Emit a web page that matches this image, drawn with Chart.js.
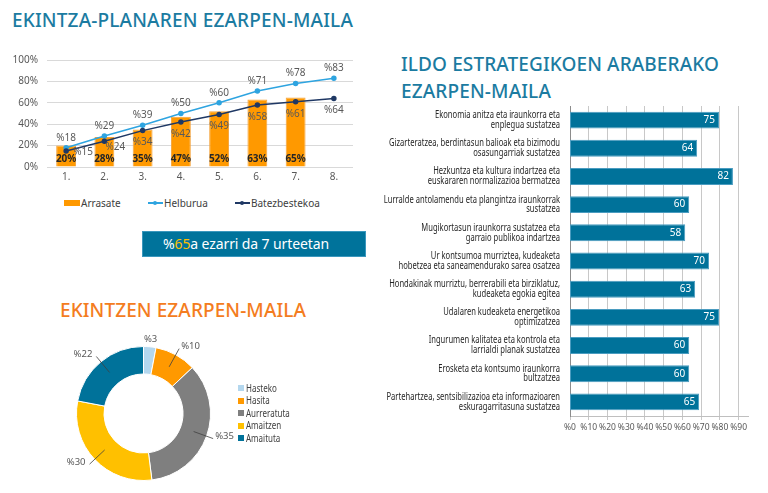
<!DOCTYPE html>
<html>
<head>
<meta charset="utf-8">
<script src="https://cdn.jsdelivr.net/npm/chart.js@4.4.1/dist/chart.umd.min.js"></script>
<style>
  body { margin: 0; width: 768px; height: 493px; background: #fff; position: relative; overflow: hidden; font-family: "Noto Sans", sans-serif; }
  .title { position: absolute; white-space: nowrap; font-size: 19px; line-height: 20px; font-weight: 500; color: #1b7ba1; }
  .orange { color: #f47c20; }
  canvas { position: absolute; }
  .banner { position: absolute; left: 142px; top: 231px; width: 222px; height: 24px; background: #00739b; border: 1px solid #3a97bd; color: #fff; font-size: 14px; line-height: 24px; }
  .banner span.txt { position: absolute; left: 20px; white-space: nowrap; }
  .banner b { color: #ffc000; font-weight: normal; }
  .leg { position: absolute; font-size: 10px; color: #404040; line-height: 12px; white-space: nowrap; }
  .leg2 { position: absolute; font-size: 10px; color: #404040; line-height: 12px; white-space: nowrap; transform: scaleX(0.8); transform-origin: left center; }
  .sw { position: absolute; }
</style>
</head>
<body>
<div class="title" id="t1" style="left:12px;top:10px">EKINTZA-PLANAREN EZARPEN-MAILA</div>
<div class="title" id="t2" style="left:401px;top:54px">ILDO ESTRATEGIKOEN ARABERAKO</div>
<div class="title" id="t3" style="left:401px;top:81px">EZARPEN-MAILA</div>
<div class="title orange" id="t4" style="left:60px;top:300px">EKINTZEN EZARPEN-MAILA</div>

<canvas id="c1" width="365" height="142" style="left:0;top:45px"></canvas>
<div id="leg1"></div>
<div class="banner"><span class="txt" id="bannerTxt">%<b>65</b>a ezarri da 7 urteetan</span></div>

<canvas id="c2" width="207" height="177" style="left:40px;top:325px"></canvas>
<div id="leg2"></div>

<canvas id="c3" width="393" height="337" style="left:375px;top:100px"></canvas>

<script>
// --- data ---
const years = ['1.', '2.', '3.', '4.', '5.', '6.', '7.', '8.'];
const arrasate = [20, 28, 35, 47, 52, 63, 65, null];
const helburua = [18, 29, 39, 50, 60, 71, 78, 83];
const batezbestekoa = [15, 24, 34, 42, 49, 58, 61, 64];

const statusLabels = ['Hasteko', 'Hasita', 'Aurreratuta', 'Amaitzen', 'Amaituta'];
const statusValues = [3, 10, 35, 30, 22];
const statusColors = ['#b4d7ee', '#ff9900', '#7f7f7f', '#ffc000', '#00729a'];

const lines = [
    ['Ekonomia anitza eta iraunkorra eta', 'enplegua sustatzea'],
    ['Gizarteratzea, berdintasun balioak eta bizimodu', 'osasungarriak sustatzea'],
    ['Hezkuntza eta kultura indartzea eta', 'euskararen normalizazioa bermatzea'],
    ['Lurralde antolamendu eta plangintza iraunkorrak', 'sustatzea'],
    ['Mugikortasun iraunkorra sustatzea eta', 'garraio publikoa indartzea'],
    ['Ur kontsumoa murriztea, kudeaketa', 'hobetzea eta saneamendurako sarea osatzea'],
    ['Hondakinak murriztu, berrerabili eta birziklatuz,', 'kudeaketa egokia egitea'],
    ['Udalaren kudeaketa energetikoa', 'optimizatzea'],
    ['Ingurumen kalitatea eta kontrola eta', 'larrialdi planak sustatzea'],
    ['Erosketa eta kontsumo iraunkorra', 'bultzatzea'],
    ['Partehartzea, sentsibilizazioa eta informazioaren', 'eskuragarritasuna sustatzea']
];
const lineValues = [75, 64, 82, 60, 58, 70, 63, 75, 60, 60, 65];
const pctTicks = [0, 10, 20, 30, 40, 50, 60, 70, 80, 90];

const FONT = '"Noto Sans", sans-serif';

// stretch titles to the width they have in the picture
const fitText = (el, target) => {
    el.style.letterSpacing = '0px';
    const w = el.getBoundingClientRect().width;
    el.style.letterSpacing = ((target - w) / el.textContent.length) + 'px';
};
fitText(document.getElementById('t1'), 341);
fitText(document.getElementById('t2'), 318);
fitText(document.getElementById('t3'), 150);
fitText(document.getElementById('t4'), 246);
fitText(document.getElementById('bannerTxt'), 166);

// legend under the combo chart
const leg1 = document.getElementById('leg1');
leg1.innerHTML = `
  <div class="sw" style="left:64px;top:200px;width:16px;height:6px;background:#ff9900"></div>
  <div class="leg" style="left:81px;top:197px">Arrasate</div>
  <div class="sw" style="left:148px;top:202px;width:15px;height:2px;background:#2ea4e0"></div>
  <div class="sw" style="left:153px;top:201px;width:4px;height:4px;border-radius:2px;background:#2ea4e0"></div>
  <div class="leg" style="left:164px;top:197px">Helburua</div>
  <div class="sw" style="left:235px;top:202px;width:15px;height:2px;background:#1f3864"></div>
  <div class="sw" style="left:240px;top:201px;width:4px;height:4px;border-radius:2px;background:#1f3864"></div>
  <div class="leg" style="left:251px;top:197px">Batezbestekoa</div>`;

// legend beside the donut
const leg2 = document.getElementById('leg2');
statusLabels.forEach((l, i) => {
    const y = 388 + i * 12.5;
    leg2.innerHTML += `
      <div class="sw" style="left:238px;top:${y - 3}px;width:6px;height:6px;background:${statusColors[i]}"></div>
      <div class="leg2" style="left:246px;top:${y - 6.5}px">${l}</div>`;
});

const comboLabels = {
    id: 'comboLabels',
    afterDatasetsDraw(chart) {
        const c = chart.ctx;
        c.save();
        c.textBaseline = 'middle';
        c.textAlign = 'center';
        // values inside the bars
        c.font = 'bold 10px ' + FONT;
        c.fillStyle = '#262626';
        chart.getDatasetMeta(2).data.forEach((el, i) => {
            if (arrasate[i] == null) return;
            c.fillText(arrasate[i] + '%', el.x, chart.scales.y.bottom - 8);
        });
        c.font = '10px ' + FONT;
        c.fillStyle = '#595959';
        chart.getDatasetMeta(0).data.forEach((p, i) => {
            c.fillText('%' + helburua[i], p.x, p.y - 10);
        });
        chart.getDatasetMeta(1).data.forEach((p, i) => {
            let dx = 0, dy = 12;
            if (i === 0) { dx = 17; dy = 1; }
            if (i === 1) { dx = 11; dy = 6; }
            c.fillText('%' + batezbestekoa[i], p.x + dx, p.y + dy);
        });
        c.restore();
    }
};

new Chart(document.getElementById('c1'), {
    data: {
        labels: years,
        datasets: [
            { type: 'line', label: 'Helburua', data: helburua, borderColor: '#2ea4e0', backgroundColor: '#2ea4e0', borderWidth: 1.5, pointRadius: 2, order: 1 },
            { type: 'line', label: 'Batezbestekoa', data: batezbestekoa, borderColor: '#1f3864', backgroundColor: '#1f3864', borderWidth: 1.5, pointRadius: 2, order: 0 },
            { type: 'bar', label: 'Arrasate', data: arrasate, backgroundColor: '#ff9900', borderColor: '#f5a33a', borderWidth: 1, barPercentage: 0.52, categoryPercentage: 1, order: 2 }
        ]
    },
    options: {
        responsive: false,
        animation: false,
        layout: { padding: { top: 10.5, right: 12, left: 0, bottom: 0 } },
        plugins: { legend: { display: false }, tooltip: { enabled: false } },
        scales: {
            x: {
                offset: true,
                grid: { display: false, drawTicks: false },
                border: { display: false },
                ticks: { color: '#595959', font: { size: 10, family: FONT }, padding: 4 },
                afterFit: s => { s.height = 20; }
            },
            y: {
                min: 0, max: 100,
                ticks: { stepSize: 20, callback: v => v + '%', color: '#595959', font: { size: 10, family: FONT }, padding: 9 },
                grid: { color: '#d9d9d9', drawTicks: false },
                border: { display: false },
                afterFit: s => { s.width = 47; }
            }
        }
    },
    plugins: [comboLabels]
});

const donutLabels = {
    id: 'donutLabels',
    afterDatasetsDraw(chart) {
        const c = chart.ctx;
        c.save();
        c.font = '9.5px ' + FONT;
        c.fillStyle = '#595959';
        c.strokeStyle = '#404040';
        c.lineWidth = 0.8;
        c.textBaseline = 'middle';
        chart.getDatasetMeta(0).data.forEach((arc, i) => {
            const mid = (arc.startAngle + arc.endAngle) / 2;
            const cos = Math.cos(mid), sin = Math.sin(mid);
            const txt = '%' + statusValues[i];
            if (statusValues[i] < 5) {
                const r = arc.outerRadius + 8;
                c.textAlign = 'center';
                c.fillText(txt, arc.x + r * cos, arc.y + r * sin);
                return;
            }
            const r0 = (arc.innerRadius + arc.outerRadius) / 2;
            const r1 = arc.outerRadius + 7;
            const ex = arc.x + r1 * cos, ey = arc.y + r1 * sin;
            c.beginPath();
            c.moveTo(arc.x + r0 * cos, arc.y + r0 * sin);
            c.lineTo(ex, ey);
            c.stroke();
            c.textAlign = cos >= 0 ? 'left' : 'right';
            c.fillText(txt, ex + (cos >= 0 ? 2 : -4), ey - 2);
        });
        c.restore();
    }
};

new Chart(document.getElementById('c2'), {
    type: 'doughnut',
    data: {
        labels: statusLabels,
        datasets: [{ data: statusValues, backgroundColor: statusColors, borderColor: '#fff', borderWidth: 1 }]
    },
    options: {
        responsive: false,
        animation: false,
        cutout: '59%',
        layout: { padding: { left: 36, right: 36, top: 21, bottom: 21 } },
        plugins: { legend: { display: false }, tooltip: { enabled: false } }
    },
    plugins: [donutLabels]
});

// category names and bar values for the right-hand chart (condensed like the original)
const barText = {
    id: 'barText',
    afterDraw(chart) {
        const c = chart.ctx;
        const ys = chart.scales.y;
        c.save();
        c.font = '10px ' + FONT;
        c.fillStyle = '#262626';
        c.textAlign = 'right';
        c.textBaseline = 'middle';
        const f = 171 / c.measureText(lines[1][0]).width;
        lines.forEach((ls, i) => {
            const y = ys.getPixelForValue(i);
            ls.forEach((t, k) => {
                c.save();
                c.translate(ys.right - 10, y + (k - 0.5) * 9.8);
                c.scale(f, 1);
                c.fillText(t, 0, 0);
                c.restore();
            });
        });
        c.font = '10px ' + FONT;
        c.fillStyle = '#fff';
        chart.getDatasetMeta(0).data.forEach((el, i) => {
            c.fillText(lineValues[i], el.x - 4, el.y);
        });
        c.restore();
    }
};

new Chart(document.getElementById('c3'), {
    type: 'bar',
    data: {
        labels: lines,
        datasets: [{ data: lineValues, xAxisID: 'x2', backgroundColor: '#00729a', borderColor: '#4a9cc0', borderWidth: 1, borderSkipped: false, barPercentage: 0.6, categoryPercentage: 1 }]
    },
    options: {
        indexAxis: 'y',
        responsive: false,
        animation: false,
        layout: { padding: { top: 6, right: 20 } },
        plugins: { legend: { display: false }, tooltip: { enabled: false } },
        scales: {
            x: {
                position: 'bottom',
                min: 0, max: 95,
                afterBuildTicks: s => { s.ticks = pctTicks.map(v => ({ value: v })); },
                ticks: { autoSkip: false, callback: v => '%' + v, color: '#595959', font: { size: 8.5, family: FONT }, padding: 2, maxRotation: 0 },
                grid: { color: '#c8c8c8', tickLength: 4, tickColor: '#c8c8c8' },
                border: { color: '#bfbfbf' },
                afterFit: s => { s.height = 21; }
            },
            x2: { display: false, min: 0, max: 89.6 },
            y: {
                ticks: { display: false },
                grid: { color: 'transparent', drawTicks: false },
                border: { color: '#8c8c8c' },
                afterFit: s => { s.width = 195; }
            }
        }
    },
    plugins: [barText]
});
</script>
</body>
</html>
